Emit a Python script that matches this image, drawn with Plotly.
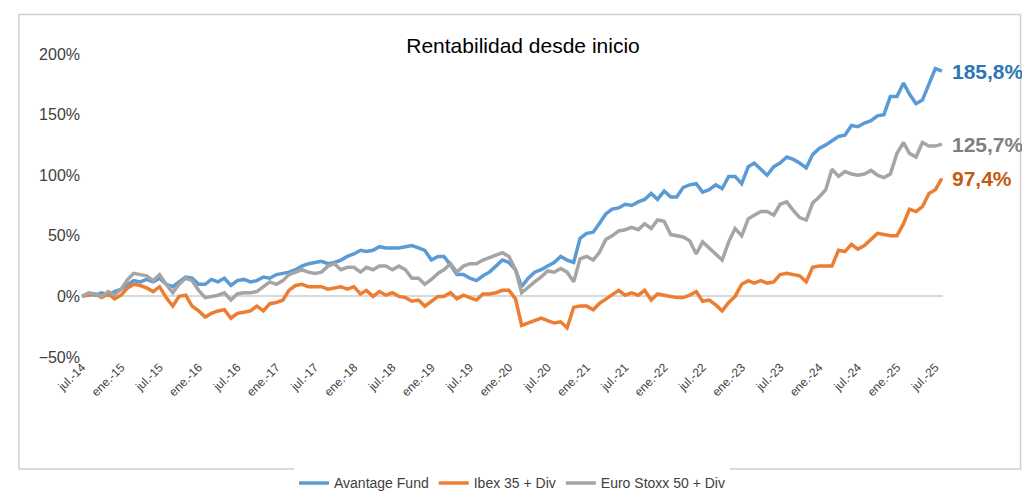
import plotly.graph_objects as go
import pandas as pd

# Mensual, jul-2014 .. ago-2025 (rentabilidad acumulada, %)
fechas = pd.date_range("2014-07-01", "2025-08-01", freq="MS")

avantage = [0, 2, 1, 3, 1, 4,
            6, 10, 13, 12, 14, 12,
            15, 10, 8, 12, 16, 15,
            10, 10, 14, 12, 15, 9,
            13, 14, 12, 13, 16, 15,
            18, 19, 20, 22, 25, 27,
            28, 29, 27, 28, 30, 33,
            35, 38, 37, 38, 41, 40,
            40, 40, 41, 42, 40, 38,
            30, 33, 33, 26, 18, 18,
            15, 13, 17, 20, 25, 30,
            28, 22, 8, 15, 20, 22,
            25, 28, 33, 30, 28, 48,
            52, 53, 60, 68, 72, 73,
            76, 75, 78, 80, 85, 80,
            87, 82, 82, 90, 92, 93,
            86, 88, 92, 89, 99, 99,
            93, 107, 110, 105, 100, 107,
            110, 115, 113, 110, 106, 117,
            122, 125, 128, 132, 133, 141,
            140, 143, 145, 149, 150, 165,
            165, 176, 167, 159, 162, 176,
            188, 185.8]

ibex = [0, 1, 2, -1, 2, -2,
        1, 7, 10, 9, 7, 4,
        8, -1, -8, 0, 1, -8,
        -12, -17, -14, -12, -11, -18,
        -14, -13, -12, -8, -12, -6,
        -5, -3, 5, 9, 10, 8,
        8, 8, 6, 7, 8, 6,
        8, 2, 5, 0, 4, 1,
        3, 0, -1, -4, -3, -8,
        -4, 0, 0, 3, -2, 1,
        -1, -3, 2, 2, 3, 5,
        5, -2, -24, -22, -20, -18,
        -20, -22, -21, -26, -9, -8,
        -8, -11, -6, -2, 1, 5,
        1, 3, 1, 5, -3, 2,
        1, 0, -1, -1, 1, 4,
        -4, -3, -7, -12, -5, 0,
        10, 13, 11, 13, 11, 12,
        18, 19, 18, 17, 12, 24,
        25, 25, 25, 38, 37, 43,
        39, 42, 47, 52, 51, 50,
        50, 60, 72, 70, 74, 85,
        88, 97.4]

stoxx = [0, 3, 2, 0, 4, 1,
         6, 14, 19, 18, 17, 13,
         18, 10, 3, 10, 15, 13,
         5, -1, 0, 1, 3, -3,
         2, 3, 3, 4, 8, 12,
         10, 13, 18, 20, 22, 20,
         19, 20, 25, 27, 22, 24,
         24, 20, 24, 22, 25, 25,
         22, 25, 22, 15, 15, 10,
         14, 19, 22, 27, 20, 25,
         27, 27, 30, 32, 34, 36,
         33, 22, 3, 8, 12, 16,
         21, 20, 23, 20, 12, 31,
         33, 30, 36, 47, 50, 54,
         55, 57, 55, 60, 56, 63,
         62, 51, 50, 49, 46, 35,
         45, 40, 35, 30, 45, 56,
         50, 64, 67, 70, 70, 67,
         76, 78, 71, 65, 63, 77,
         82, 88, 105, 99, 103, 101,
         100, 101, 104, 100, 98, 101,
         118, 127, 118, 115, 127, 124,
         124, 125.7]

nombres = ["Avantage Fund", "Ibex 35 + Div", "Euro Stoxx 50 + Div"]
colores = ["#5B9BD5", "#ED7D31", "#A5A5A5"]
colores_etiqueta = ["#2E75B6", "#C55A11", "#7F7F7F"]

meses = {1: "ene.", 7: "jul."}
ticks = pd.date_range("2014-07-01", "2025-07-01", freq="6MS")
ticktext = [f"{meses[d.month]}-{d.strftime('%y')}" for d in ticks]

fig = go.Figure()
for nombre, serie, color in zip(nombres, [avantage, ibex, stoxx], colores):
    fig.add_trace(go.Scatter(x=fechas, y=serie, name=nombre, mode="lines",
                             line=dict(color=color, width=3.5)))

for serie, color in zip([avantage, stoxx, ibex], [colores_etiqueta[0], colores_etiqueta[2], colores_etiqueta[1]]):
    fig.add_annotation(x=fechas[-1], y=serie[-1], xanchor="left", xshift=8,
                       text=f"<b>{serie[-1]:.1f}%</b>".replace(".", ","),
                       showarrow=False, font=dict(size=21, color=color))

fig.add_shape(type="rect", xref="paper", yref="paper", x0=-0.072, x1=1.09, y0=-0.37, y1=1.13,
              line=dict(color="#D0D0D0", width=1.5))

fig.update_layout(
    width=1030, height=503,
    margin=dict(l=73, r=95, t=46, b=126),
    paper_bgcolor="white", plot_bgcolor="white",
    font=dict(family="Liberation Sans, Arial", color="#404040"),
    title=dict(text="Rentabilidad desde inicio", x=0.5, y=0.94, xanchor="center",
               font=dict(size=21, color="#000000")),
    showlegend=True,
    legend=dict(orientation="h", x=0.5, xanchor="center", y=-0.47, yanchor="bottom",
                font=dict(size=14, color="#404040")),
    xaxis=dict(tickvals=ticks, ticktext=ticktext, tickangle=-45, showgrid=False,
               range=[fechas[0] - pd.Timedelta(days=5), fechas[-1] + pd.Timedelta(days=5)],
               tickfont=dict(size=12), showline=False, zeroline=False),
    yaxis=dict(range=[-50, 200], dtick=50, ticksuffix="%", showgrid=False,
               zeroline=True, zerolinecolor="#D9D9D9", zerolinewidth=1.5,
               tickfont=dict(size=16)),
)

fig.write_html("out.html")
